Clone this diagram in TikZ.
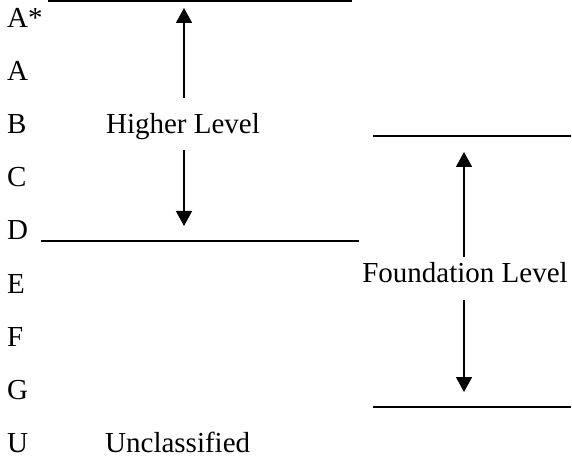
\documentclass[tikz,border=0pt]{standalone}
\usepackage{fontspec}
\setmainfont{Liberation Serif}
\usetikzlibrary{arrows.meta}
\begin{document}
\begin{tikzpicture}[x=1pt, y=-1pt, font=\fontsize{29}{35}\selectfont, >={Triangle[width=16pt,length=15pt]}]
	\useasboundingbox (0,0) rectangle (572,462);
	\tikzset{level/.style={line width=2.2pt}, span/.style={->, line width=1.6pt}}
	% grades
	\foreach \g [count=\i from 0] in {A*,A,B,C,D,E,F,G,U}
		\node[anchor=base west, inner sep=0pt] (g\i) at (7,28+53*\i) {\g};
	\node[anchor=base, inner sep=0pt] (hl) at (183,134) {Higher Level};
	\node[anchor=base west, inner sep=0pt] (uc) at (105,452) {Unclassified};
	\node[anchor=base, inner sep=0pt] (fl) at (465,282) {Foundation Level};
	% level lines
	\coordinate (HT1) at (48,1);   \coordinate (HT2) at (352,1);
	\coordinate (HB1) at (41,241); \coordinate (HB2) at (359,241);
	\coordinate (FT1) at (373,136); \coordinate (FT2) at (571,136);
	\coordinate (FB1) at (373,407); \coordinate (FB2) at (571,407);
	\draw[level] (HT1)--(HT2) (HB1)--(HB2) (FT1)--(FT2) (FB1)--(FB2);
	% arrows
	\coordinate (h1) at (184,98);  \coordinate (h2) at (184,8);
	\coordinate (h3) at (184,150); \coordinate (h4) at (184,226);
	\coordinate (f1) at (464,257); \coordinate (f2) at (464,152);
	\coordinate (f3) at (464,300); \coordinate (f4) at (464,392);
	\draw[span] (h1)--(h2);
	\draw[span] (h3)--(h4);
	\draw[span] (f1)--(f2);
	\draw[span] (f3)--(f4);
\end{tikzpicture}
\end{document}
